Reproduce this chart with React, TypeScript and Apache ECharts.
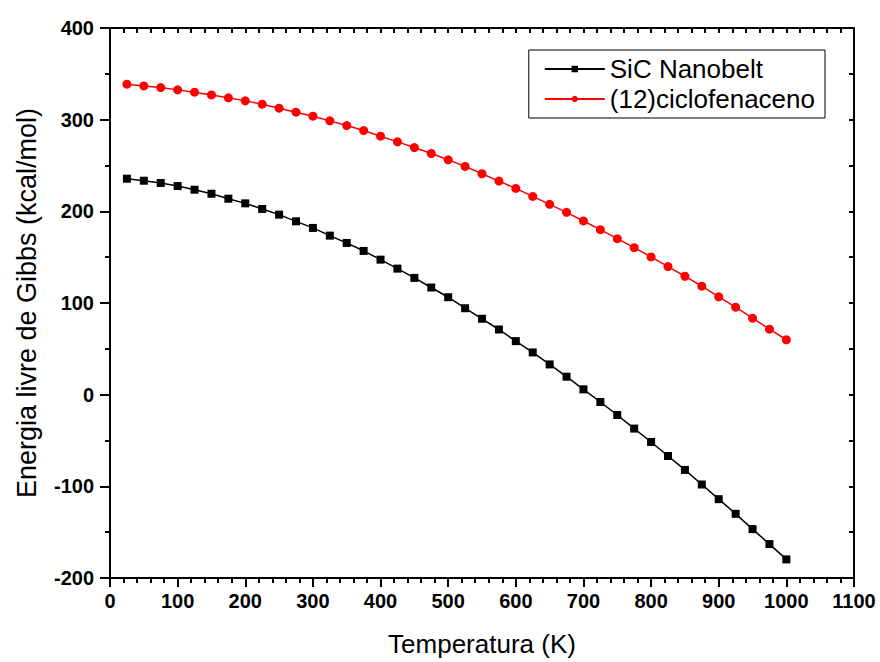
import React, { useEffect, useRef } from "react";
import * as echarts from "echarts";

const temperatures = [
  25, 50, 75, 100, 125, 150, 175, 200, 225, 250, 275, 300, 325, 350, 375, 400, 425, 450, 475, 500,
  525, 550, 575, 600, 625, 650, 675, 700, 725, 750, 775, 800, 825, 850, 875, 900, 925, 950, 975, 1000,
];

const sicNanobelt = [
  235.6, 233.4, 230.9, 227.6, 223.6, 219.2, 213.8, 208.7, 202.6, 196.4, 189.1, 181.9, 173.5, 165.5,
  156.8, 147.3, 137.5, 127.4, 116.9, 106.3, 94.3, 82.8, 71.1, 58.4, 46.1, 33.0, 19.6, 5.8, -8.0,
  -22.2, -37.0, -51.6, -66.9, -82.1, -98.0, -114.0, -130.0, -146.7, -163.0, -179.7,
];

const ciclofenaceno = [
  338.7, 336.8, 335.0, 332.5, 330.0, 327.0, 323.8, 320.5, 316.9, 312.5, 308.2, 303.8, 298.7, 293.6,
  288.1, 282.0, 275.8, 269.6, 263.1, 256.2, 249.0, 241.0, 233.0, 225.0, 216.3, 207.6, 198.9, 189.5,
  180.0, 170.2, 160.4, 150.3, 139.7, 129.2, 118.3, 106.7, 95.4, 83.4, 71.4, 59.9,
];

const seriesNames = ["SiC Nanobelt", "(12)ciclofenaceno"];
const xTitle = "Temperatura (K)";
const yTitle = "Energia livre de Gibbs (kcal/mol)";

const FONT = "'Liberation Sans', Arial, sans-serif";

export default function App() {
  const ref = useRef<HTMLDivElement>(null);

  useEffect(() => {
    if (!ref.current) return;
    const chart = echarts.init(ref.current, undefined, { renderer: "svg" });
    const pair = (ys: number[]) => temperatures.map((t, i) => [t, ys[i]]);
    const labelStyle = {
      fontFamily: FONT,
      fontWeight: "bold" as const,
      fontSize: 20,
      color: "#000",
      formatter: (v: number) => String(v),
    };
    chart.setOption({
      animation: false,
      backgroundColor: "#fff",
      grid: { left: 110, right: 26, top: 28, bottom: 83, containLabel: false },
      legend: {
        right: 55,
        top: 50,
        orient: "vertical",
        backgroundColor: "#fff",
        borderColor: "#000",
        borderWidth: 1,
        borderRadius: 0,
        padding: [6, 10, 6, 15],
        itemGap: 4,
        itemWidth: 60,
        itemHeight: 8,
        textStyle: { fontFamily: FONT, fontSize: 26, color: "#000" },
        data: seriesNames,
      },
      xAxis: [
        {
          type: "value",
          min: 0,
          max: 1100,
          interval: 100,
          name: xTitle,
          nameLocation: "middle",
          nameGap: 53,
          nameTextStyle: { fontFamily: FONT, fontSize: 26, color: "#000" },
          axisLine: { show: true, onZero: false, lineStyle: { color: "#000", width: 2 } },
          axisTick: { show: true, inside: false, length: 9, lineStyle: { color: "#000", width: 2 } },
          minorTick: { show: true, splitNumber: 5, length: 5, lineStyle: { color: "#000", width: 2 } },
          axisLabel: { ...labelStyle, margin: 13 },
          splitLine: { show: false },
        },
        {
          type: "value",
          position: "top",
          min: 0,
          max: 1100,
          interval: 100,
          axisLine: { show: true, onZero: false, lineStyle: { color: "#000", width: 2 } },
          axisTick: { show: true, inside: true, length: 5, lineStyle: { color: "#000", width: 2 } },
          minorTick: { show: true, splitNumber: 5, length: 5, lineStyle: { color: "#000", width: 2 } },
          axisLabel: { show: false },
          splitLine: { show: false },
        },
      ],
      yAxis: [
        {
          type: "value",
          min: -200,
          max: 400,
          interval: 100,
          name: yTitle,
          nameLocation: "middle",
          nameGap: 70,
          nameTextStyle: { fontFamily: FONT, fontSize: 27, color: "#000" },
          axisLine: { show: true, onZero: false, lineStyle: { color: "#000", width: 2 } },
          axisTick: { show: true, inside: false, length: 10, lineStyle: { color: "#000", width: 2 } },
          minorTick: { show: true, splitNumber: 2, length: 5, lineStyle: { color: "#000", width: 2 } },
          axisLabel: { ...labelStyle, margin: 16 },
          splitLine: { show: false },
        },
        {
          type: "value",
          position: "right",
          min: -200,
          max: 400,
          interval: 100,
          axisLine: { show: true, onZero: false, lineStyle: { color: "#000", width: 2 } },
          axisTick: { show: true, inside: true, length: 5, lineStyle: { color: "#000", width: 2 } },
          minorTick: { show: true, splitNumber: 2, length: 5, lineStyle: { color: "#000", width: 2 } },
          axisLabel: { show: false },
          splitLine: { show: false },
        },
      ],
      series: [
        {
          name: seriesNames[0],
          type: "line",
          data: pair(sicNanobelt),
          symbol: "rect",
          symbolSize: 8,
          showAllSymbol: true,
          itemStyle: { color: "#000" },
          lineStyle: { color: "#000", width: 1.5 },
        },
        {
          name: seriesNames[1],
          type: "line",
          data: pair(ciclofenaceno),
          symbol: "circle",
          symbolSize: 9,
          showAllSymbol: true,
          itemStyle: { color: "#ff0000" },
          lineStyle: { color: "#ff0000", width: 1.5 },
        },
      ],
    });
    return () => chart.dispose();
  }, []);

  return (
    <div
      ref={ref}
      style={{ position: "fixed", left: 0, top: 0, width: 880, height: 662, background: "#fff" }}
    />
  );
}
